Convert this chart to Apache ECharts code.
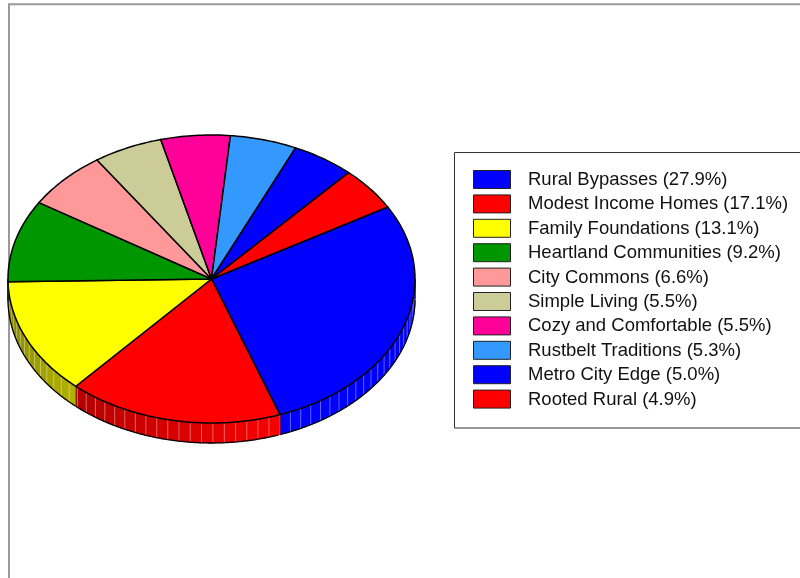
<!DOCTYPE html>
<html>
<head>
<meta charset="utf-8">
<script src="https://cdn.jsdelivr.net/npm/echarts/dist/echarts.min.js"></script>
<style>
html,body{margin:0;padding:0;background:#ffffff;}
#chart{width:800px;height:578px;}
</style>
</head>
<body>
<div id="chart"></div>
<script>
// ---- data ----
const categories = [
  'Rural Bypasses', 'Modest Income Homes', 'Family Foundations', 'Heartland Communities',
  'City Commons', 'Simple Living', 'Cozy and Comfortable', 'Rustbelt Traditions',
  'Metro City Edge', 'Rooted Rural'
];
const values = [27.9, 17.1, 13.1, 9.2, 6.6, 5.5, 5.5, 5.3, 5.0, 4.9];
const colors = [
  '#0000ff', '#ff0000', '#ffff00', '#009600', '#ff9999',
  '#cccc99', '#ff0099', '#3399ff', '#0000ff', '#ff0000'
];

// ---- layout (not data) ----
const CX = 211.5, CY = 279, RX = 203.5, RY = 144, DEPTH = 20;
const START = 30;          // degrees, math orientation; slices go clockwise
const FACET = 3.2;         // side facet step in degrees
const FONT = '18.5px "Liberation Sans", Arial, sans-serif';

const total = values.reduce((a, b) => a + b, 0);

function pt(deg, dy) {
  const r = deg * Math.PI / 180;
  return [CX + RX * Math.cos(r), CY - RY * Math.sin(r) + (dy || 0)];
}
function shade(hex, f) {
  const n = parseInt(hex.slice(1), 16);
  const r = Math.round(((n >> 16) & 255) * f);
  const g = Math.round(((n >> 8) & 255) * f);
  const b = Math.round((n & 255) * f);
  return 'rgb(' + r + ',' + g + ',' + b + ')';
}

function renderItem(params, api) {
  const i = params.dataIndex;
  const v = api.value(1);
  let cum = 0;
  for (let k = 0; k < i; k++) cum += values[k];
  const a0 = START - cum / total * 360;
  const a1 = a0 - v / total * 360;
  const color = colors[i];
  const children = [];

  // side wall (front half: angles -180..0)
  const s0 = Math.max(a1, -180), s1 = Math.min(a0, 0);
  if (s1 > s0) {
    const bounds = [s0];
    let g = Math.floor(s0 / FACET) * FACET + FACET;
    while (g < s1 - 1e-6) { bounds.push(g); g += FACET; }
    bounds.push(s1);
    for (let k = 0; k < bounds.length - 1; k++) {
      const b0 = bounds[k], b1 = bounds[k + 1];
      const mid = (b0 + b1) / 2;
      const theta = mid + 180;
      const f = Math.min(1, 0.48 + 0.0046 * theta);
      const pts = [];
      const n = Math.max(1, Math.ceil((b1 - b0) / 1));
      for (let j = 0; j <= n; j++) pts.push(pt(b0 + (b1 - b0) * j / n, 0));
      for (let j = n; j >= 0; j--) pts.push(pt(b0 + (b1 - b0) * j / n, DEPTH));
      children.push({
        type: 'polygon',
        shape: { points: pts },
        style: { fill: shade(color, f), stroke: shade(color, f), lineWidth: 0.5 }
      });
    }
    // light stripes between facets
    for (let k = 1; k < bounds.length - 1; k++) {
      const p = pt(bounds[k], 0), q = pt(bounds[k], DEPTH);
      children.push({
        type: 'line',
        shape: { x1: p[0], y1: p[1], x2: q[0], y2: q[1] },
        style: { stroke: 'rgba(255,255,255,0.35)', lineWidth: 1 }
      });
    }
    // bottom rim
    const rim = [];
    for (let d = s0; d <= s1 + 1e-6; d += 0.5) rim.push(pt(Math.min(d, s1), DEPTH));
    children.push({
      type: 'polyline',
      shape: { points: rim },
      style: { stroke: '#000', lineWidth: 1.3, fill: null }
    });
    // slice edges on side
    [s0, s1].forEach(function (e) {
      const p = pt(e, 0), q = pt(e, DEPTH);
      const outer = (e === -180 || e === 0);
      children.push({
        type: 'line',
        shape: { x1: p[0], y1: p[1], x2: q[0], y2: q[1] },
        style: { stroke: outer ? '#000' : 'rgba(0,0,0,0.45)', lineWidth: outer ? 1.2 : 0.8 }
      });
    });
  }

  // top sector
  const top = [[CX, CY]];
  const steps = Math.max(2, Math.ceil((a0 - a1) / 1));
  for (let j = 0; j <= steps; j++) top.push(pt(a0 - (a0 - a1) * j / steps, 0));
  children.push({
    type: 'polygon',
    shape: { points: top },
    style: { fill: color, stroke: '#000', lineWidth: 1.5, lineJoin: 'round' }
  });

  // legend entry
  const ly = 170 + i * 24.4;
  children.push({
    type: 'rect',
    shape: { x: 473.5, y: ly + 0.5, width: 37, height: 18 },
    style: { fill: color, stroke: '#222', lineWidth: 1 }
  });
  children.push({
    type: 'text',
    style: {
      text: categories[i] + ' (' + v.toFixed(1) + '%)',
      x: 528, y: ly + 10,
      font: FONT,
      fill: '#111111',
      align: 'left',
      verticalAlign: 'middle'
    }
  });

  return { type: 'group', children: children };
}

const chart = echarts.init(document.getElementById('chart'), null, { renderer: 'canvas' });
chart.setOption({
  animation: false,
  backgroundColor: '#ffffff',
  graphic: [
    {
      type: 'rect', z: 0,
      shape: { x: 9, y: 4.3, width: 820, height: 620 },
      style: { fill: null, stroke: '#9a9a9a', lineWidth: 2 }
    },
    {
      type: 'rect', z: 0,
      shape: { x: 454.5, y: 152.5, width: 400, height: 275.5 },
      style: { fill: null, stroke: '#333333', lineWidth: 1 }
    }
  ],
  series: [{
    type: 'custom',
    coordinateSystem: 'none',
    renderItem: renderItem,
    data: values.map(function (v, i) { return [i, v]; })
  }]
});
</script>
</body>
</html>
